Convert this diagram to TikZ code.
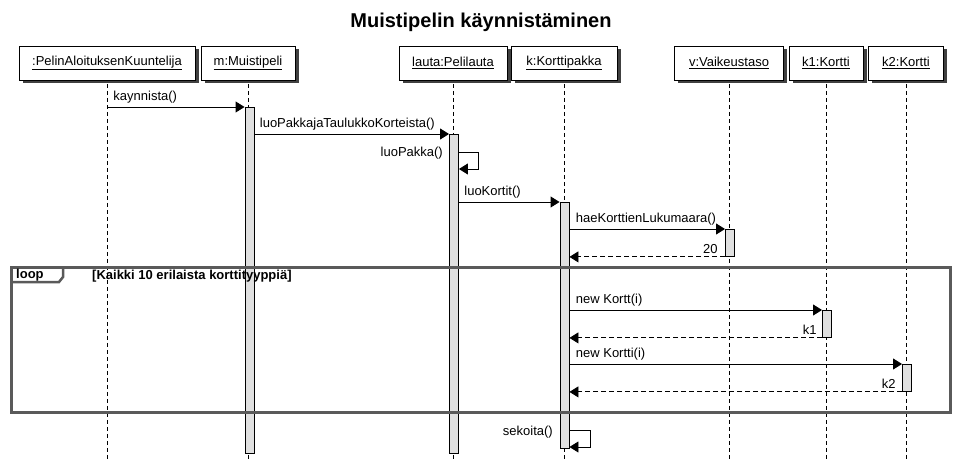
\documentclass[tikz,border=0pt]{standalone}
\usepackage{fontspec}
\setmainfont{Liberation Sans}
\usetikzlibrary{arrows.meta,shadows}
\definecolor{barfill}{HTML}{E0E0E0}
\definecolor{framecol}{HTML}{5A5A5A}
\begin{document}
\begin{tikzpicture}[x=1pt,y=-1pt,
  every node/.style={font=\fontsize{13}{15}\selectfont},
  head/.style={draw=black,fill=white,line width=0.9pt,minimum height=34pt,inner sep=0pt,
    drop shadow={shadow xshift=3.5pt,shadow yshift=-3.5pt,fill=black!75,opacity=1}},
  lifeline/.style={draw=black,line width=0.9pt,dash pattern=on 4pt off 3pt},
  actbar/.style={draw=black,fill=barfill,line width=0.9pt,minimum width=9pt,inner sep=0pt,anchor=north},
  msg/.style={draw=black,line width=0.9pt,-{Triangle[length=9pt,width=11pt]}},
  ret/.style={msg,dash pattern=on 5pt off 3pt},
  mlabel/.style={anchor=south west,inner sep=0pt,yshift=3pt},
  rlabel/.style={anchor=south east,inner sep=0pt,yshift=3pt},
  slabel/.style={anchor=east,inner sep=0pt},
  loopframe/.style={draw=framecol,line width=3pt}
]
\useasboundingbox (0,0) rectangle (956,460);

% title
\node[font=\fontsize{20}{24}\selectfont\bfseries] (title) at (481,22) {Muistipelin käynnistäminen};

% heads
\node[head,minimum width=176pt] (h1) at (107,63) {\underline{:PelinAloituksenKuuntelija}};
\node[head,minimum width=94pt]  (h2) at (248,63) {\underline{m:Muistipeli}};
\node[head,minimum width=108pt] (h3) at (453,63) {\underline{lauta:Pelilauta}};
\node[head,minimum width=106pt] (h4) at (564,63) {\underline{k:Korttipakka}};
\node[head,minimum width=109pt] (h5) at (729,63) {\underline{v:Vaikeustaso}};
\node[head,minimum width=74pt]  (h6) at (826,63) {\underline{k1:Kortti}};
\node[head,minimum width=75pt]  (h7) at (906,63) {\underline{k2:Kortti}};

% lifeline ends
\foreach \i in {1,...,7} {
  \coordinate (e\i) at (h\i.south |- 0,460);
  \draw[lifeline] ([yshift=-3.5pt]h\i.south) -- (e\i);
}

% activation bars
\node[actbar,minimum height=346pt] (bar2) at (249.5,107) {};
\node[actbar,minimum height=319pt] (bar3) at (454,134) {};
\node[actbar,minimum height=246pt] (bar4) at (564.5,202) {};
\node[actbar,minimum height=27pt]  (bar5) at (730,229) {};
\node[actbar,minimum height=27pt]  (bar6) at (827,310) {};
\node[actbar,minimum height=27pt]  (bar7) at (907,364) {};

% messages
\draw[msg] (h1.south |- bar2.north) -- (bar2.north west)
  node[pos=0,mlabel,xshift=6pt] (l1) {kaynnista()};
\draw[msg] (bar2.east |- bar3.north) -- (bar3.north west)
  node[pos=0,mlabel,xshift=5pt] (l2) {luoPakkajaTaulukkoKorteista()};

% self call luoPakka
\coordinate (s1a) at (478,152);
\coordinate (s1b) at (478,169);
\draw[msg] (bar3.east |- s1a) -- (s1a) -- (s1b) -- (bar3.east |- s1b);
\node[slabel] (l3) at (443,153) {luoPakka()};

\draw[msg] (bar3.east |- bar4.north) -- (bar4.north west)
  node[pos=0,mlabel,xshift=5pt] (l4) {luoKortit()};
\draw[msg] (bar4.east |- bar5.north) -- (bar5.north west)
  node[pos=0,mlabel,xshift=6pt] (l5) {haeKorttienLukumaara()};
\draw[ret] (bar5.south west) -- (bar4.east |- bar5.south)
  node[pos=0,rlabel,xshift=-7pt] (l6) {20};

\draw[msg] (bar4.east |- bar6.north) -- (bar6.north west)
  node[pos=0,mlabel,xshift=6pt] (l7) {new Kortt(i)};
\draw[ret] (bar6.south west) -- (bar4.east |- bar6.south)
  node[pos=0,rlabel,xshift=-5pt] (l8) {k1};
\draw[msg] (bar4.east |- bar7.north) -- (bar7.north west)
  node[pos=0,mlabel,xshift=6pt] (l9) {new Kortti(i)};
\draw[ret] (bar7.south west) -- (bar4.east |- bar7.south)
  node[pos=0,rlabel,xshift=-6pt] (l10) {k2};

% self call sekoita
\coordinate (s2a) at (590,430);
\coordinate (s2b) at (590,447);
\draw[msg] (bar4.east |- s2a) -- (s2a) -- (s2b) -- (bar4.east |- s2b);
\node[slabel] (l11) at (553,432) {sekoita()};

% loop frame
\draw[loopframe] (11,267) rectangle (950,412);
\draw[draw=framecol,line width=2.5pt] (11,282) -- (59,282) -- (63,277) -- (63,267);
\node[anchor=west,inner sep=0pt,font=\fontsize{13}{15}\selectfont\bfseries] (lp) at (16,275) {loop};
\node[anchor=west,inner sep=0pt,font=\fontsize{13}{15}\selectfont\bfseries] (guard) at (92,276) {[Kaikki 10 erilaista korttityyppiä]};
\end{tikzpicture}
\end{document}
